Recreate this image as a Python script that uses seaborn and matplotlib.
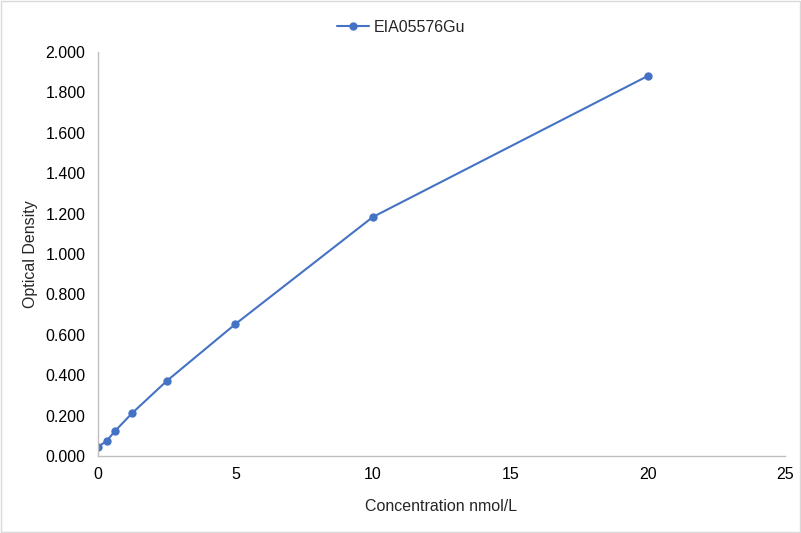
import matplotlib
matplotlib.use("Agg")
import matplotlib.pyplot as plt
import seaborn as sns
import pandas as pd
from matplotlib.ticker import FormatStrFormatter

# data
concentration = [0, 0.3125, 0.625, 1.25, 2.5, 5, 10, 20]
optical_density = [0.045, 0.074, 0.124, 0.213, 0.371, 0.653, 1.183, 1.881]
series_name = "EIA05576Gu"

df = pd.DataFrame({"Concentration": concentration, "OD": optical_density})

sns.set_style("white")
plt.rcParams["font.family"] = ["Liberation Sans", "DejaVu Sans"]

fig = plt.figure(figsize=(8.01, 5.33), dpi=100)
ax = fig.add_axes([0.1223, 0.1445, 0.8577, 0.7579])

line_color = "#4472C4"
sns.lineplot(data=df, x="Concentration", y="OD", ax=ax, color=line_color,
             marker="o", markersize=6, markeredgewidth=0, linewidth=1.5,
             label=series_name)

ax.set_xlim(0, 25)
ax.set_ylim(0, 2.0)
ax.set_xticks([0, 5, 10, 15, 20, 25])
ax.set_yticks([i * 0.2 for i in range(11)])
ax.yaxis.set_major_formatter(FormatStrFormatter("%.3f"))
ax.tick_params(labelsize=11.5, colors="#000000", length=0)
ax.tick_params(axis="y", pad=9)
ax.tick_params(axis="x", pad=8)

for side in ["top", "right"]:
    ax.spines[side].set_visible(False)
for side in ["left", "bottom"]:
    ax.spines[side].set_color("#BFBFBF")
    ax.spines[side].set_linewidth(1)

ax.set_xlabel("Concentration nmol/L", fontsize=11.5, labelpad=12)
ax.set_ylabel("Optical Density", fontsize=11.5, labelpad=5)

ax.legend(loc="upper center", bbox_to_anchor=(0.441, 1.115), frameon=False,
          fontsize=11.5, handlelength=2.0, handletextpad=0.3)

# light border around the figure
fig.patches.append(plt.Rectangle((0.001, 0.001), 0.998, 0.998, transform=fig.transFigure,
                                 fill=False, edgecolor="#D9D9D9", linewidth=1))

fig.savefig("out.png", dpi=100)
